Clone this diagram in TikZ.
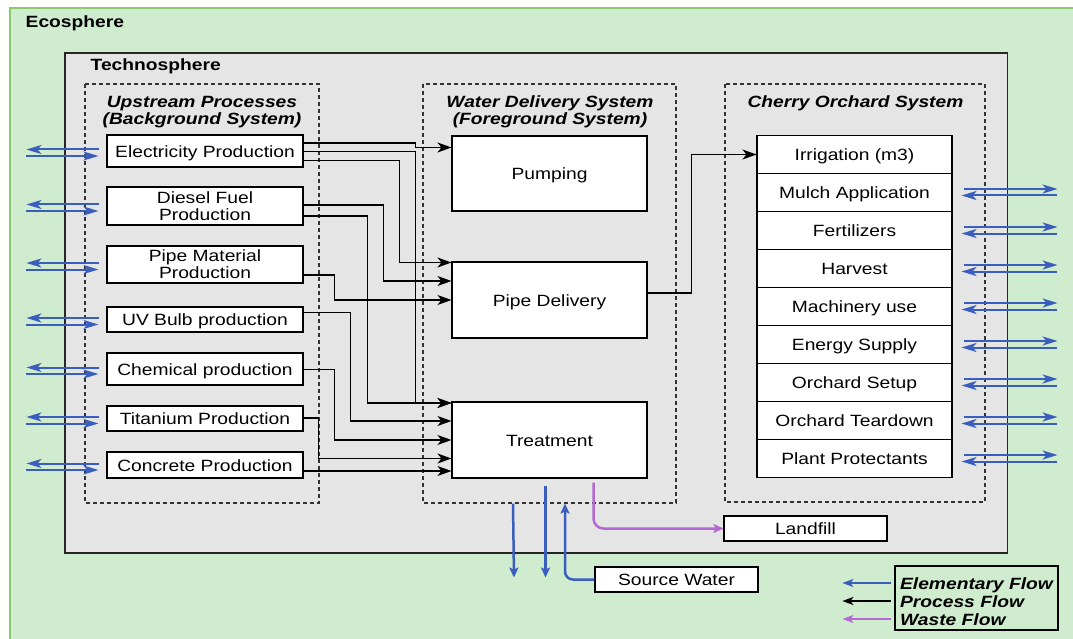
\documentclass[tikz,border=0pt]{standalone}
\usepackage{fontspec}
\setmainfont{Liberation Sans}[FakeStretch=1.18]
\usetikzlibrary{arrows.meta,calc}
\definecolor{eco}{RGB}{208,236,206}
\definecolor{ecoline}{RGB}{140,200,110}
\definecolor{techno}{RGB}{229,229,229}
\definecolor{elemblue}{RGB}{58,94,190}
\definecolor{wastepurple}{RGB}{178,106,210}
\newcommand\dfont{\fontsize{16.3}{17}\selectfont}
\newcommand\lfont{\fontsize{16.3}{18}\selectfont}
\begin{document}
\begin{tikzpicture}[x=1pt,y=-1pt,
  every node/.style={font=\dfont,inner sep=0pt},
  box/.style={draw=black,fill=white,line width=1.1pt,align=center},
  sbox/.style={box,text height=12.5pt,text depth=0pt},
  dbox/.style={draw=black!80,dash pattern=on 4pt off 3pt,line width=1.2pt},
  proc/.style={draw=black,line width=1.2pt,-{Stealth[length=14pt,width=10pt,inset=4pt]}},
  elem/.style={draw=elemblue,line width=2pt,-{Stealth[length=15pt,width=9pt,inset=4pt]}},
  elemb/.style={draw=elemblue,line width=2.5pt,-{Stealth[length=10pt,width=9pt,inset=2pt]}},
  waste/.style={draw=wastepurple,line width=2.5pt,-{Stealth[length=10pt,width=9pt,inset=2pt]}},
  legarrow/.style={line width=2pt,-{Stealth[length=11pt,width=8pt,inset=3pt]}},
  ttl/.style={font=\dfont\bfseries\itshape,align=center},
  lbl/.style={font=\dfont\bfseries}]

\useasboundingbox (0,0) rectangle (1073,639);
\fill[white] (0,0) rectangle (1073,639);
\draw[fill=eco,draw=ecoline,line width=1.5pt] (10,8) rectangle (1085,650);
\node[lbl,anchor=base west] (eco) at (25.5,27.3) {Ecosphere};
\draw[fill=techno,draw=black!85,line width=1.5pt] (65,53) rectangle (1007.5,553);
\node[lbl,anchor=base west] (tech) at (90.5,70.7) {Technosphere};
\draw[dbox] (85,84) rectangle (319,503);
\draw[dbox] (423,84) rectangle (676,503);
\draw[dbox] (725,84) rectangle (985,502);

\node[ttl] (uptitle) at (202,112.2) {Upstream Processes\\(Background System)};
\node[ttl] (wdtitle) at (550,112.2) {Water Delivery System\\(Foreground System)};
\node[ttl,anchor=base] (cotitle) at (855.5,107.5) {Cherry Orchard System};

% upstream processes
\node[sbox,minimum width=196pt,minimum height=32pt] (elec) at (205,151) {Electricity Production};
\node[box,minimum width=196pt,minimum height=38pt] (dies) at (205,206) {Diesel Fuel\\Production};
\node[box,minimum width=196pt,minimum height=37pt] (pmat) at (205,264.5) {Pipe Material\\Production};
\node[sbox,minimum width=196pt,minimum height=25pt] (uvb) at (205,319.5) {UV Bulb production};
\node[sbox,minimum width=196pt,minimum height=32pt] (chem) at (205,369) {Chemical production};
\node[sbox,minimum width=196pt,minimum height=25pt] (tita) at (205,418.5) {Titanium Production};
\node[sbox,minimum width=196pt,minimum height=26pt] (conc) at (205,465) {Concrete Production};

% water delivery
\node[sbox,minimum width=195pt,minimum height=75pt] (pump) at (549.5,173.5) {Pumping};
\node[sbox,minimum width=195pt,minimum height=76pt] (pipe) at (549.5,300) {Pipe Delivery};
\node[sbox,minimum width=195pt,minimum height=76pt] (treat) at (549.5,440) {Treatment};

% cherry orchard
\foreach \n/\t [count=\i from 0] in {o0/Irrigation (m3),o1/Mulch Application,o2/Fertilizers,o3/Harvest,o4/Machinery use,o5/Energy Supply,o6/Orchard Setup,o7/Orchard Teardown,o8/Plant Protectants}
  \node[sbox,minimum width=195pt,minimum height=38pt] (\n) at (854.5,154.5+38*\i) {\t};

\node[sbox,minimum width=163pt,minimum height=25pt] (src) at (676.5,579.5) {Source Water};
\node[sbox,minimum width=163pt,minimum height=25pt] (land) at (805.5,528.5) {Landfill};

% legend
\node[draw=black,line width=1.2pt,minimum width=163pt,minimum height=64pt,align=left,font=\lfont\bfseries\itshape] (leg) at (976.5,598) {\rule{0pt}{19.9pt}Elementary Flow\\Process Flow\\Waste Flow};
\draw[legarrow,draw=elemblue] ($(leg.west)+(-3,-15)$) -- ($(leg.west)+(-52,-15)$);
\draw[legarrow,draw=black] ($(leg.west)+(-3,3)$) -- ($(leg.west)+(-52,3)$);
\draw[legarrow,draw=wastepurple] ($(leg.west)+(-3,21)$) -- ($(leg.west)+(-52,21)$);

% elementary flows left
\foreach \b in {elec,dies,pmat,uvb,chem,tita,conc} {
  \draw[elem] ($(\b.west)+(-7,-1.5)$) -- ($(\b.west)+(-80,-1.5)$);
  \draw[elem] ($(\b.west)+(-80,5)$) -- ($(\b.west)+(-8,5)$);
}
% elementary flows right
\foreach \i in {1,...,8} {
  \draw[elem] ($(o\i.east)+(11,-3.5)$) -- ($(o\i.east)+(105,-3.5)$);
  \draw[elem] ($(o\i.east)+(104,3)$) -- ($(o\i.east)+(9,3)$);
}

% process flows
\draw[proc] ($(elec.east)+(0,-8)$) -| ($(pump.west)+(-36,-26)$) -- ($(pump.west)+(0,-26)$);
\draw[proc] ($(elec.east)+(0,0.7)$) -| ($(treat.west)+(-36,-37)$) -- ($(treat.west)+(0,-37)$);
\draw[proc] ($(elec.east)+(0,9.7)$) -| ($(pipe.west)+(-52,-37.5)$) -- ($(pipe.west)+(0,-37.5)$);
\draw[proc] ($(dies.east)+(0,-1)$) -| ($(pipe.west)+(-68,-19)$) -- ($(pipe.west)+(0,-19)$);
\draw[proc] ($(dies.east)+(0,10)$) -| ($(treat.west)+(-84,-37)$) -- ($(treat.west)+(0,-37)$);
\draw[proc] ($(pmat.east)+(0,10.5)$) -| ($(pipe.west)+(-117,0)$) -- (pipe.west);
\draw[proc] ($(uvb.east)+(0,-7)$) -| ($(treat.west)+(-101,-19)$) -- ($(treat.west)+(0,-19)$);
\draw[proc] ($(chem.east)+(0,0.5)$) -| ($(treat.west)+(-117,0)$) -- (treat.west);
\draw[proc] ($(tita.east)+(0,-0.5)$) -| ($(treat.west)+(-133,18.5)$) -- ($(treat.west)+(0,18.5)$);
\draw[proc] ($(conc.east)+(0,6)$) -- ($(treat.west)+(0,31)$);
\draw[proc] ($(pipe.east)+(0,-7)$) -| ($(o0.west)+(-65,0)$) -- (o0.west);

% bottom flows
\draw[elemb] ($(treat.south)+(-36.5,25)$) -- ($(treat.south)+(-35.5,99)$);
\draw[elemb] ($(treat.south)+(-4,7)$) -- ($(treat.south)+(-4,99)$);
\draw[elemb,rounded corners=8pt] (src.west) -| ($(treat.south)+(15.5,25)$);
\draw[waste,rounded corners=10pt] ($(treat.south)+(44,4)$) |- (land.west);
\end{tikzpicture}
\end{document}
